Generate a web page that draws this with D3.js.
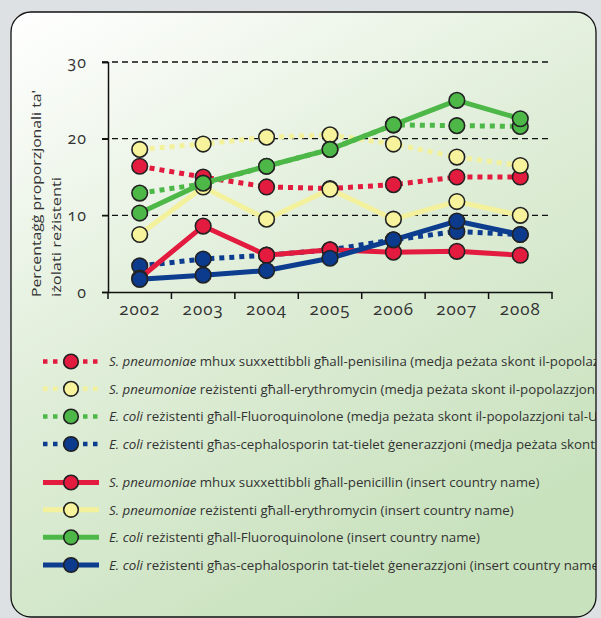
<!DOCTYPE html>
<html>
<head>
<meta charset="utf-8">
<script src="https://cdn.jsdelivr.net/npm/d3@7"></script>
<style>
  html, body { margin: 0; padding: 0; background: #dde1e4; }
  svg { display: block; }
  text { font-family: "Open Sans", "Noto Sans", sans-serif; fill: #333; }
</style>
</head>
<body>
<svg id="chart" width="601" height="618"></svg>
<script>
// Years on the horizontal axis
const years = ["2002", "2003", "2004", "2005", "2006", "2007", "2008"];
const yTicks = [0, 10, 20, 30];

// EU population-weighted means (dotted lines)
const euPenicillin = [16.4, 15.0, 13.7, 13.5, 14.0, 15.0, 15.0];
const euErythromycin = [18.6, 19.3, 20.2, 20.5, 19.3, 17.6, 16.5];
const euFluoroquinolone = [12.9, 14.1, 16.4, 18.6, 21.8, 21.7, 21.6];
const euCephalosporin = [3.4, 4.3, 4.8, 5.5, 6.8, 7.9, 7.5];

// National series (solid lines)
const natPenicillin = [1.8, 8.6, 4.8, 5.5, 5.2, 5.3, 4.8];
const natErythromycin = [7.5, 13.7, 9.5, 13.4, 9.5, 11.8, 10.0];
const natFluoroquinolone = [10.3, 14.2, 16.4, 18.6, 21.8, 25.0, 22.6];
const natCephalosporin = [1.65, 2.2, 2.8, 4.4, 6.8, 9.25, 7.5];

const colors = {
  red:    { line: "#e31b3f", fill: "#e31b3f" },
  yellow: { line: "#f4f19c", fill: "#f6f39c" },
  green:  { line: "#4db848", fill: "#4db848" },
  blue:   { line: "#0c3d8f", fill: "#0c3a8c" }
};

const series = [
  { values: euPenicillin, c: colors.red, dotted: true, org: "S. pneumoniae", rest: " mhux suxxettibbli għall-penisilina (medja peżata skont il-popolazzjoni tal-UE)" },
  { values: euErythromycin, c: colors.yellow, dotted: true, org: "S. pneumoniae", rest: " reżistenti għall-erythromycin (medja peżata skont il-popolazzjoni tal-UE)" },
  { values: euFluoroquinolone, c: colors.green, dotted: true, org: "E. coli", rest: " reżistenti għall-Fluoroquinolone (medja peżata skont il-popolazzjoni tal-UE)" },
  { values: euCephalosporin, c: colors.blue, dotted: true, org: "E. coli", rest: " reżistenti għas-cephalosporin tat-tielet ġenerazzjoni (medja peżata skont il-popolazzjoni tal-UE)" },
  { values: natPenicillin, c: colors.red, dotted: false, org: "S. pneumoniae", rest: " mhux suxxettibbli għall-penicillin (insert country name)" },
  { values: natErythromycin, c: colors.yellow, dotted: false, org: "S. pneumoniae", rest: " reżistenti għall-erythromycin (insert country name)" },
  { values: natFluoroquinolone, c: colors.green, dotted: false, org: "E. coli", rest: " reżistenti għall-Fluoroquinolone (insert country name)" },
  { values: natCephalosporin, c: colors.blue, dotted: false, org: "E. coli", rest: " reżistenti għas-cephalosporin tat-tielet ġenerazzjoni (insert country name)" }
];

const svg = d3.select("#chart");
const defs = svg.append("defs");

const grad = defs.append("linearGradient")
  .attr("id", "panelGrad")
  .attr("x1", 0).attr("y1", 0).attr("x2", 0.55).attr("y2", 1);
grad.append("stop").attr("offset", "0").attr("stop-color", "#ffffff");
grad.append("stop").attr("offset", "0.5").attr("stop-color", "#e0eed9");
grad.append("stop").attr("offset", "1").attr("stop-color", "#c9e2be");

const panel = { x: 11, y: 12, w: 585, h: 605, r: 20 };

defs.append("clipPath").attr("id", "panelClip")
  .append("rect")
  .attr("x", panel.x).attr("y", panel.y)
  .attr("width", panel.w).attr("height", panel.h)
  .attr("rx", panel.r);

svg.append("rect")
  .attr("x", panel.x).attr("y", panel.y)
  .attr("width", panel.w).attr("height", panel.h)
  .attr("rx", panel.r)
  .attr("fill", "url(#panelGrad)");

const content = svg.append("g").attr("clip-path", "url(#panelClip)");

// Scales
const x = d3.scaleBand().domain(years).range([108, 552]);
const y = d3.scaleLinear().domain([0, 30]).range([292, 62]);
const cx = d => x(d) + x.bandwidth() / 2;

// Dashed gridlines
content.append("g")
  .selectAll("line")
  .data(yTicks.filter(t => t > 0))
  .join("line")
  .attr("x1", 102).attr("x2", 552)
  .attr("y1", d => y(d)).attr("y2", d => y(d))
  .attr("stroke", "#111")
  .attr("stroke-width", 1.3)
  .attr("stroke-dasharray", "6,4");

// Y axis
const yAxis = content.append("g")
  .attr("transform", "translate(108,0)")
  .call(d3.axisLeft(y).tickValues(yTicks).tickSize(6).tickPadding(15));
yAxis.select(".domain").attr("stroke", "#111").attr("stroke-width", 1.5);
yAxis.selectAll(".tick line").attr("stroke", "#111").attr("stroke-width", 1.5);
yAxis.selectAll(".tick text")
  .style("font-family", "'Open Sans', sans-serif")
  .style("font-size", "16px")
  .style("letter-spacing", "1px")
  .style("font-variant-numeric", "oldstyle-nums")
  .attr("fill", "#333");

// X axis: labels centred in bands, ticks on band boundaries
const xAxis = content.append("g")
  .attr("transform", "translate(0,292)")
  .call(d3.axisBottom(x).tickSize(0).tickPadding(11));
xAxis.select(".domain").attr("stroke", "#111").attr("stroke-width", 1.5);
xAxis.selectAll(".tick text")
  .style("font-family", "'Open Sans', sans-serif")
  .style("font-size", "17px")
  .style("letter-spacing", "1px")
  .style("font-variant-numeric", "oldstyle-nums")
  .attr("fill", "#333");
const bounds = years.map(d => x(d)).concat([x.range()[1]]);
xAxis.append("g").selectAll("line")
  .data(bounds)
  .join("line")
  .attr("x1", d => d).attr("x2", d => d)
  .attr("y1", 0).attr("y2", 7)
  .attr("stroke", "#111").attr("stroke-width", 1.5);

// Y axis title (two lines, condensed to fit beside the axis)
const yTitle = content.append("g")
  .attr("transform", "translate(41,297) rotate(-90)");
yTitle.append("text")
  .attr("x", 0).attr("y", 0)
  .style("font-size", "13.5px")
  .attr("textLength", 207)
  .attr("lengthAdjust", "spacingAndGlyphs")
  .attr("fill", "#333")
  .text("Percentaġġ proporzjonali ta'");
yTitle.append("text")
  .attr("x", 0).attr("y", 19.5)
  .style("font-size", "13.5px")
  .attr("textLength", 120)
  .attr("lengthAdjust", "spacingAndGlyphs")
  .attr("fill", "#333")
  .text("iżolati reżistenti");

// Lines and markers
const line = d3.line()
  .x((d, i) => cx(years[i]))
  .y(d => y(d));

const drawSeries = (s) => {
  const g = content.append("g");
  g.append("path")
    .datum(s.values)
    .attr("d", line)
    .attr("fill", "none")
    .attr("stroke", s.c.line)
    .attr("stroke-width", 5)
    .attr("stroke-dasharray", s.dotted ? "5,5" : null);
  g.selectAll("circle")
    .data(s.values)
    .join("circle")
    .attr("cx", (d, i) => cx(years[i]))
    .attr("cy", d => y(d))
    .attr("r", 7.8)
    .attr("fill", s.c.fill)
    .attr("stroke", "#222")
    .attr("stroke-width", 1.6);
};
series.forEach(drawSeries);

// Legend
const legendY = [361.5, 388.8, 416.5, 444, 482.5, 509.8, 537.3, 565];
const legend = content.append("g");
series.forEach((s, i) => {
  const g = legend.append("g").attr("transform", `translate(0,${legendY[i]})`);
  g.append("line")
    .attr("x1", 43).attr("x2", 99)
    .attr("y1", 0).attr("y2", 0)
    .attr("stroke", s.c.line)
    .attr("stroke-width", s.dotted ? 4.5 : 5)
    .attr("stroke-dasharray", s.dotted ? "4.5,5.5" : null);
  g.append("circle")
    .attr("cx", 71).attr("cy", 0).attr("r", 7.3)
    .attr("fill", s.c.fill)
    .attr("stroke", "#222").attr("stroke-width", 1.6);
  const t = g.append("text")
    .attr("x", 109).attr("y", 4.7)
    .style("font-size", "13.3px")
    .attr("fill", "#333");
  t.append("tspan").style("font-style", "italic").text(s.org);
  t.append("tspan").text(s.rest);
});

// Panel border
svg.append("rect")
  .attr("x", panel.x).attr("y", panel.y)
  .attr("width", panel.w).attr("height", panel.h)
  .attr("rx", panel.r)
  .attr("fill", "none")
  .attr("stroke", "#111")
  .attr("stroke-width", 1.3);
</script>
</body>
</html>
